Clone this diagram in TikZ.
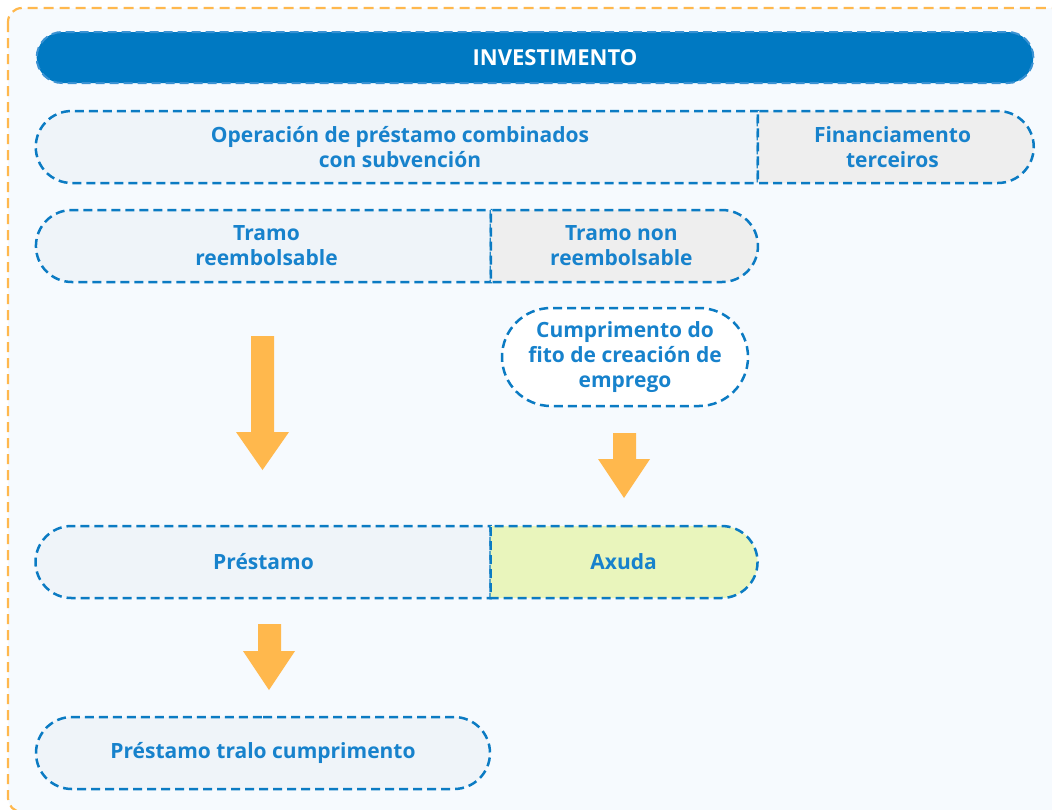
\documentclass[tikz,border=0pt]{standalone}
\usepackage{fontspec}
\setmainfont{Open Sans}
\usepackage{tikz}
\usetikzlibrary{shapes.misc}

\definecolor{framebg}{HTML}{F6FAFE}
\definecolor{frameline}{HTML}{FFB84D}
\definecolor{barblue}{HTML}{0079C2}
\definecolor{barline}{HTML}{3A92D3}
\definecolor{boxline}{HTML}{0B7BC3}
\definecolor{boxtext}{HTML}{1782CC}
\definecolor{lightbox}{HTML}{EFF4F9}
\definecolor{greybox}{HTML}{EEEEEE}
\definecolor{greenbox}{HTML}{E9F5BC}
\definecolor{arrowfill}{HTML}{FFB84D}

\begin{document}
\begin{tikzpicture}[x=0.5pt,y=-0.5pt,
    part/.style={shape=rounded rectangle, draw=boxline, line width=1.25pt,
        dash pattern=on 4.5pt off 2.5pt, inner sep=0pt, outer sep=0pt, minimum height=36pt,
        text=boxtext, align=center, font=\bfseries\fontsize{10.5}{12.5}\selectfont},
    leftpart/.style={part, rounded rectangle east arc=none},
    rightpart/.style={part, rounded rectangle west arc=none, anchor=west},
    bar/.style={shape=rounded rectangle, fill=barblue, draw=barline, line width=1pt,
        dash pattern=on 4.5pt off 2.5pt, minimum width=505pt, minimum height=25.5pt},
    blockarrow/.style={fill=arrowfill}]

    \useasboundingbox (0,0) rectangle (1052,809);
    \clip (0,0) rectangle (1052,809);
    \draw[draw=frameline, fill=framebg, line width=1.1pt, dash pattern=on 5pt off 3pt,
        rounded corners=7pt] (8,8) rectangle (1075,812);

    % header
    \node[bar] (invest) at (535,57.5) {};
    \node[text=white, font=\bfseries\fontsize{11}{12.5}\selectfont] (investlabel) at (555,57.5) {INVESTIMENTO};

    % rows
    \node[leftpart, fill=lightbox, minimum width=361pt] (operacion) at (400,147)
        {Operación de préstamo combinados\\con subvención};
    \node[rightpart, fill=greybox, minimum width=138pt] (terceiros) at (operacion.east)
        {Financiamento\\terceiros};

    \node[leftpart, fill=lightbox, minimum width=227.5pt] (reemb) at (266.5,246)
        {Tramo\\reembolsable};
    \node[rightpart, fill=greybox, minimum width=133.5pt] (nonreemb) at (reemb.east)
        {Tramo non\\reembolsable};

    \node[part, fill=white, minimum width=123pt, minimum height=49pt] (fito) at (625,357)
        {Cumprimento do\\fito de creación de\\emprego};

    \node[leftpart, fill=lightbox, minimum width=227.5pt] (prestamo) at (263.5,562) {Préstamo};
    \node[rightpart, fill=greenbox, minimum width=133.5pt] (axuda) at (prestamo.east) {Axuda};

    \node[part, fill=lightbox, minimum width=227pt] (tralo) at (263,753)
        {Préstamo tralo cumprimento};

    % arrows
    \fill[blockarrow] (251,336) -- (274,336) -- (274,432) -- (289,432) -- (262.5,470)
        -- (236,432) -- (251,432) -- cycle;
    \fill[blockarrow] (613,433) -- (636,433) -- (636,459) -- (650,459) -- (624,498)
        -- (598,459) -- (613,459) -- cycle;
    \fill[blockarrow] (258,624) -- (281,624) -- (281,651) -- (295,651) -- (269,690)
        -- (243,651) -- (258,651) -- cycle;
\end{tikzpicture}
\end{document}
